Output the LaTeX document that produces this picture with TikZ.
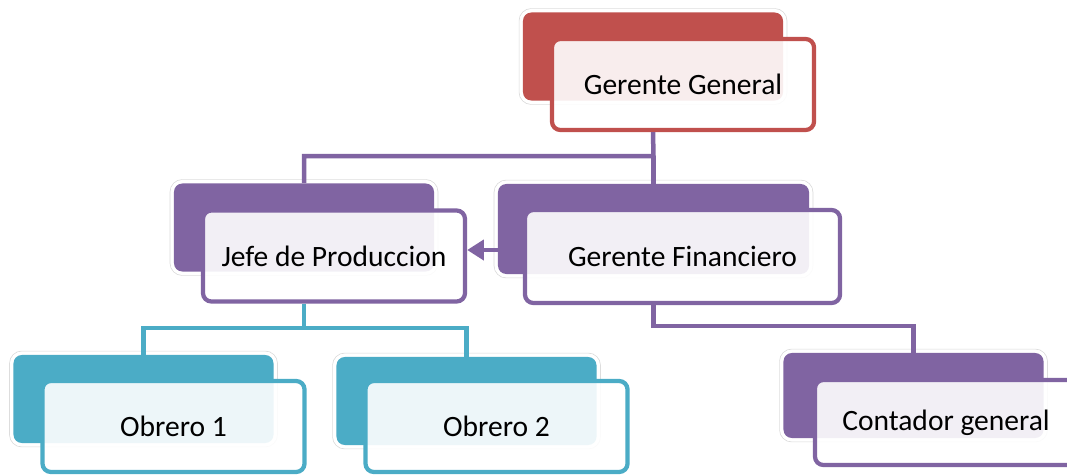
\documentclass[tikz,border=0pt]{standalone}
\usepackage{fontspec}
\setmainfont{Carlito}
\usepackage{tikz}
\usetikzlibrary{arrows.meta}
\tikzset{>={Triangle[length=0.42cm, width=0.5cm]}}
\definecolor{rojo}{HTML}{C0504D}
\definecolor{morado}{HTML}{8064A2}
\definecolor{celeste}{HTML}{4BACC6}

\begin{document}
\begin{tikzpicture}[x=0.025cm, y=-0.025cm,
    backbox/.style={rounded corners=6pt, fill=#1, inner sep=0pt,
        minimum width=6.5cm, minimum height=2.2cm,
        preaction={draw=black!15, line width=6pt},
        preaction={draw=white, line width=5pt}},
    frontbox/.style={rounded corners=6pt, draw=#1, line width=3pt, inner sep=0pt,
        fill=white, fill opacity=.9, text opacity=1,
        minimum width=6.55cm, minimum height=2.275cm,
        font=\fontsize{21}{25}\selectfont},
    link/.style={draw=#1, line width=3.2pt}]
    \useasboundingbox (0, 0) rectangle (1067, 475);
    % gerente general
    \node[backbox=rojo] (ggb) at (653, 56.5) {};
    \node[frontbox=rojo] (gg) at (683, 84.5) {Gerente General};
    % segundo nivel
    \node[backbox=morado] (jpb) at (304, 227.5) {};
    \node[frontbox=morado] (jp) at (334, 256) {Jefe de Produccion};
    \node[backbox=morado, minimum width=7.775cm, minimum height=2.25cm] (gfb) at (653.5, 229) {};
    \node[frontbox=morado, minimum width=7.875cm, minimum height=2.325cm] (gf) at (682.5, 256.5) {Gerente Financiero};
    % tercer nivel
    \node[backbox=celeste] (ob1b) at (143.5, 399) {};
    \node[frontbox=celeste] (ob1) at (173.5, 426.5) {Obrero 1};
    \node[backbox=celeste] (ob2b) at (466.5, 401) {};
    \node[frontbox=celeste] (ob2) at (496.5, 426.5) {Obrero 2};
    \node[backbox=morado, minimum height=2.125cm] (cgb) at (913.5, 395.5) {};
    \node[frontbox=morado, minimum height=2.125cm] (cg) at (946, 422.5) {Contador general};
    % conectores
    \coordinate (j1) at (653.5, 156);
    \coordinate (j2) at (304, 328);
    \coordinate (j3) at (653.5, 326);
    \draw[link=morado] (ggb.center |- gg.south) -- (j1) -| (jpb.north);
    \draw[link=morado] (j1) -- (gfb.north);
    \draw[link=celeste] (jpb.center |- jp.south) -- (j2) -| (ob1b.north);
    \draw[link=celeste] (j2) -| (ob2b.north);
    \draw[link=morado] (gfb.center |- gf.south) -- (j3) -| (cgb.north);
    \draw[link=morado, ->] ([yshift=.15cm]gfb.west |- jp.east) -- ([yshift=.15cm]jp.east);
\end{tikzpicture}
\end{document}
